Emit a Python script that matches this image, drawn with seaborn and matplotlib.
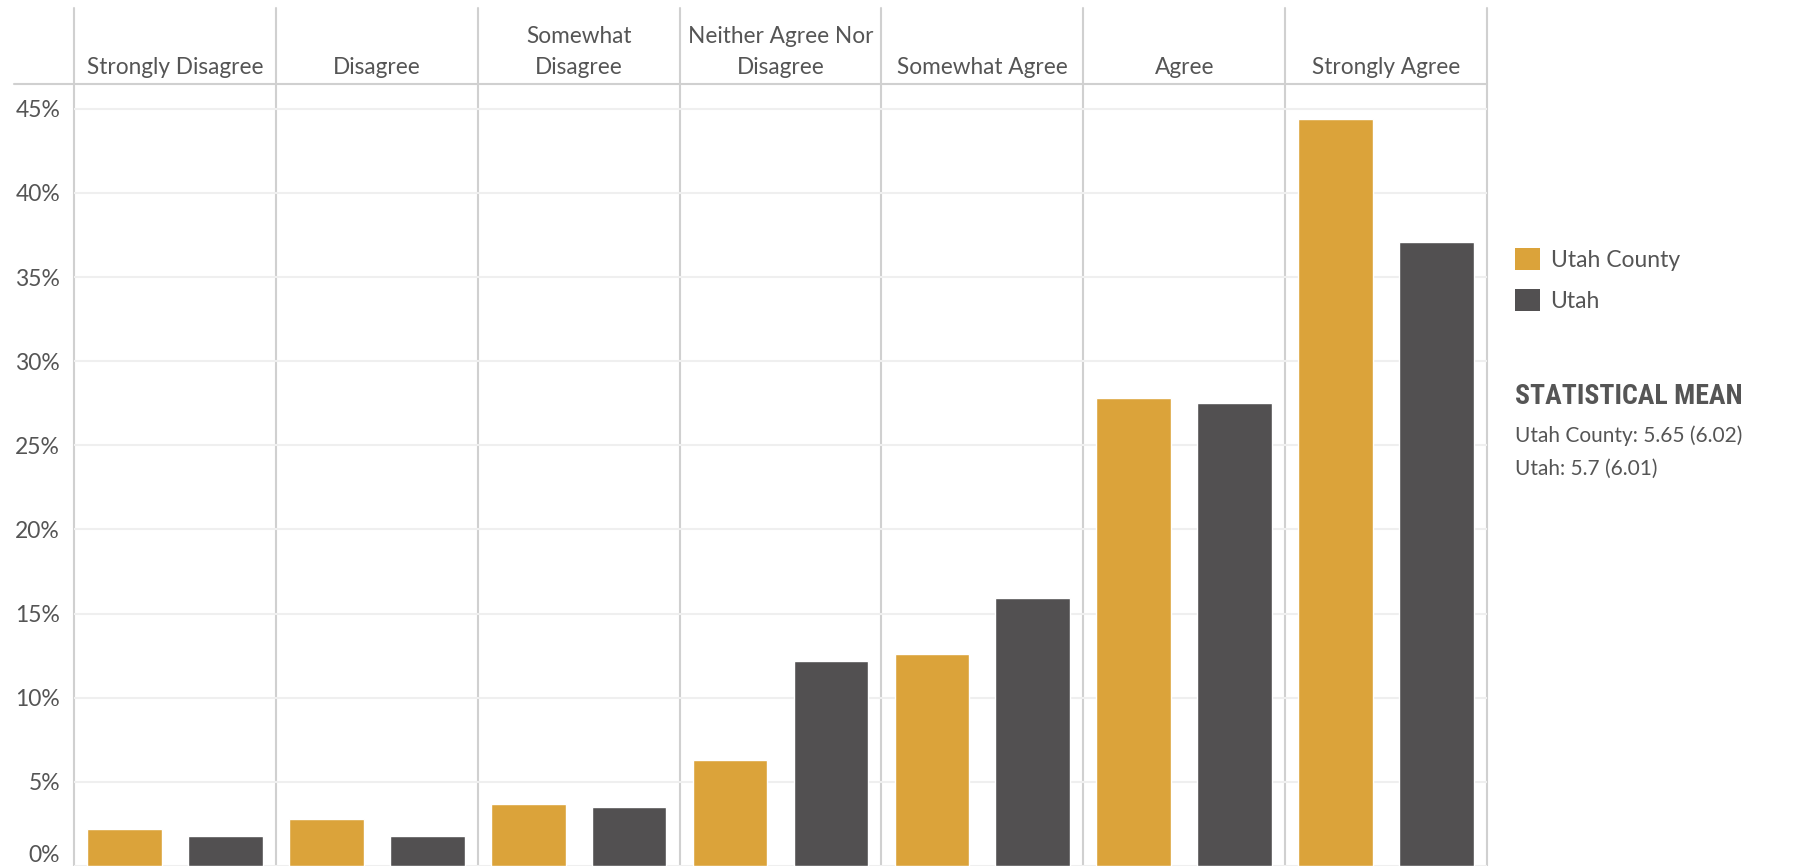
import numpy as np
import pandas as pd
import matplotlib
matplotlib.use('Agg')
import matplotlib.pyplot as plt
from matplotlib import font_manager
from matplotlib.lines import Line2D
from matplotlib.patches import Patch
import seaborn as sns

# ===== data =====
categories = ['Strongly Disagree', 'Disagree', 'Somewhat\nDisagree',
              'Neither Agree Nor\nDisagree', 'Somewhat Agree', 'Agree', 'Strongly Agree']
series = ['Utah County', 'Utah']
utah_county = [2.2, 2.8, 3.7, 6.3, 12.6, 27.8, 44.4]
utah = [1.8, 1.8, 3.5, 12.2, 15.9, 27.5, 37.1]
y_ticks = [0, 5, 10, 15, 20, 25, 30, 35, 40, 45]
mean_title = 'STATISTICAL MEAN'
mean_lines = ['Utah County: 5.65 (6.02)', 'Utah: 5.7 (6.01)']

colors = ['#DBA33A', '#525051']
text_col = '#555555'
sep_col = '#D0D0D0'

df = pd.DataFrame({
    'response': categories * 2,
    'region': [series[0]] * len(categories) + [series[1]] * len(categories),
    'pct': utah_county + utah,
})

sns.set_theme(style='white')
plt.rcParams['font.family'] = ['Lato', 'DejaVu Sans']

# narrow heading font if one is around
installed = {f.name for f in font_manager.fontManager.ttflist}
title_font, title_size = 'Roboto', 16
for name, size in [('Roboto Condensed', 20), ('Liberation Sans Narrow', 18)]:
    if name in installed:
        title_font, title_size = name, size
        break

W, H = 1793, 866
fig = plt.figure(figsize=(W / 100, H / 100), dpi=100)
ax_top = 83.5
ax = fig.add_axes([74 / W, 0, (1487 - 74) / W, (H - ax_top) / H])

sns.barplot(data=df, x='response', y='pct', hue='region', order=categories,
            hue_order=series, palette=colors, width=1.0, gap=0.26,
            saturation=1, errorbar=None, legend=False, ax=ax)

ax.set_xlim(-0.5, len(categories) - 0.5)
ax.set_ylim(0, 46.5)
ax.set_xlabel('')
ax.set_ylabel('')
for s in ax.spines.values():
    s.set_visible(False)

# header labels on top
ax.xaxis.tick_top()
ax.tick_params(axis='x', length=0, pad=4, labelsize=16.3, labelcolor=text_col)
for lab in ax.get_xticklabels():
    lab.set_multialignment('center')
    lab.set_linespacing(1.6)

ax.set_yticks(y_ticks)
ax.set_yticklabels([f'{v}%' for v in y_ticks])
ax.tick_params(axis='y', length=0, pad=10, labelsize=16.5, labelcolor=text_col)
ax.get_yticklabels()[0].set_va('bottom')

ax.set_axisbelow(True)
ax.grid(axis='y', color='#EFEFEF', lw=1.5)
ax.grid(axis='x', visible=False)

ext = (H - 8) / (H - ax_top)
for x in np.arange(-0.5, len(categories)):
    ax.axvline(x, ymin=0, ymax=ext, color=sep_col, lw=1.5, clip_on=False, zorder=0)

fig.add_artist(Line2D([14 / W, 1487 / W], [1 - ax_top / H] * 2, color=sep_col, lw=1.5))

# legend
handles = [Patch(facecolor=c, edgecolor='none', label=s) for c, s in zip(colors, series)]
fig.legend(handles=handles, loc='upper left', bbox_to_anchor=(1515 / W, 1 - 248 / H),
           frameon=False, borderpad=0, borderaxespad=0, handlelength=1.1,
           handleheight=1.1, handletextpad=0.45, labelspacing=0.8,
           fontsize=16.5, labelcolor=text_col)

fig.text(1515 / W, 1 - 396 / H, mean_title, fontsize=title_size, fontweight='bold',
         family=[title_font, 'DejaVu Sans'], color=text_col, va='center')
for i, line in enumerate(mean_lines):
    fig.text(1515 / W, 1 - (436 + 33 * i) / H, line, fontsize=15, color=text_col, va='center')

fig.savefig('out.png', dpi=100)
